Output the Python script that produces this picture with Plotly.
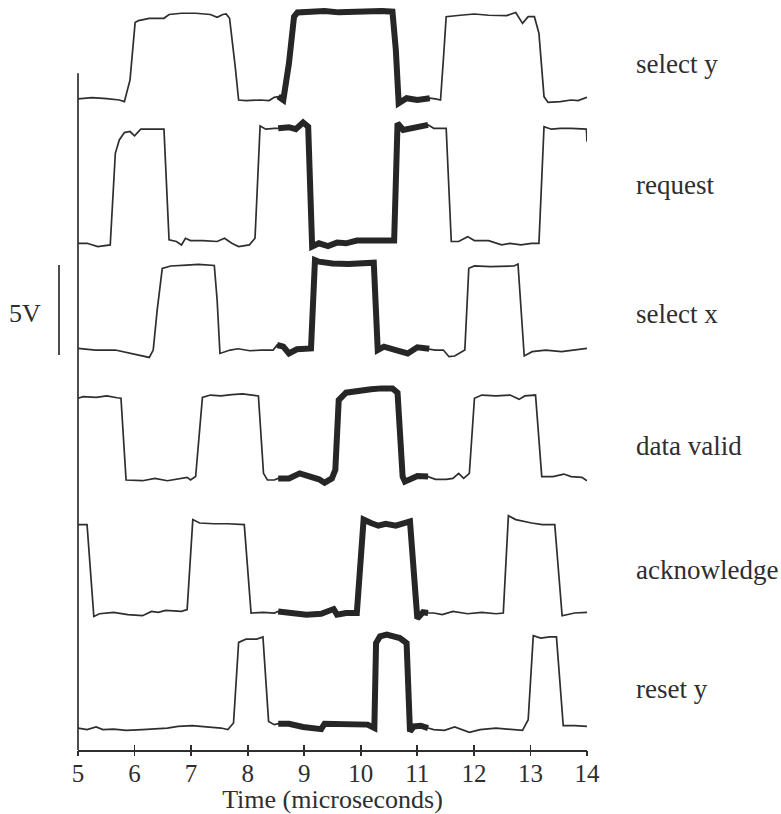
import plotly.graph_objects as go

# ---------------- data (time in microseconds, signal in volts) ----------------
CHANNELS = ["select y", "request", "select x", "data valid", "acknowledge", "reset y"]

T_SELECT_Y = [5.00, 5.25, 5.51, 5.73, 5.82, 5.92, 6.01, 6.07, 6.26, 6.52, 6.61, 6.83, 7.08, 7.34, 7.46,
              7.56, 7.62, 7.68, 7.78, 7.84, 7.97, 8.22, 8.38, 8.47, 8.54, 8.63, 8.73, 8.82, 8.88, 9.11,
              9.36, 9.61, 9.86, 10.12, 10.37, 10.56, 10.62, 10.67, 10.81, 11.00, 11.22, 11.32, 11.41,
              11.46, 11.51, 11.76, 12.01, 12.26, 12.58, 12.74, 12.86, 12.96, 13.07, 13.15, 13.24, 13.31,
              13.53, 13.72, 13.84, 14.00]
V_SELECT_Y = [0, 0.07, 0.02, -0.06, -0.15, 1.06, 4.24, 4.35, 4.48, 4.48, 4.69, 4.76, 4.76, 4.69, 4.54,
              4.69, 4.72, 4.48, 1.80, -0.06, -0.09, -0.06, -0.09, 0.09, 0.13, -0.06, 1.98, 4.57, 4.80, 4.85,
              4.89, 4.81, 4.85, 4.87, 4.89, 4.85, 2.72, -0.24, 0.04, -0.06, 0.04, 0, -0.06,
              2.17, 4.57, 4.65, 4.72, 4.65, 4.63, 4.80, 4.20, 4.57, 4.57, 3.65, 0.13, -0.19,
              -0.15, -0.06, -0.09, 0.09]

T_REQUEST = [5.00, 5.16, 5.35, 5.57, 5.66, 5.73, 5.82, 5.92, 6.00, 6.11, 6.30, 6.52, 6.61, 6.74, 6.83,
             6.90, 6.99, 7.21, 7.46, 7.59, 7.72, 7.84, 8.03, 8.13, 8.22, 8.32, 8.47, 8.54, 8.73, 8.85,
             8.98, 9.07, 9.14, 9.26, 9.42, 9.58, 9.74, 9.93, 10.12, 10.24, 10.59, 10.65, 10.75, 10.94,
             11.19, 11.29, 11.51, 11.60, 11.73, 11.89, 12.01, 12.26, 12.49, 12.64, 12.83, 13.02, 13.15,
             13.24, 13.37, 13.53, 13.72, 13.91, 13.99, 14.00]
V_REQUEST = [0.09, 0.09, -0.09, 0, 5.09, 5.83, 6.24, 6.30, 6.06, 6.43, 6.43, 6.43, 0.28, 0.19, 0,
             0.37, 0.24, 0.24, 0.19, 0.37, 0.09, -0.09, 0, 0.37, 6.61, 6.43, 6.48, 6.48, 6.54, 6.43,
             6.80, 6.57, -0.09, 0.09, -0.06, 0.13, 0.09, 0.24, 0.28, 0.24, 0.24, 6.76, 6.39, 6.48,
             6.67, 6.48, 6.48, 0.19, 0.19, 0.46, 0.24, 0.24, 0, 0.09, 0, 0.09, 0.09,
             6.57, 6.43, 6.48, 6.48, 6.43, 6.43, 5.74]

T_SELECT_X = [5.00, 5.31, 5.66, 5.94, 6.15, 6.26, 6.33, 6.40, 6.49, 6.64, 6.92, 7.13, 7.41, 7.46, 7.51,
              7.69, 7.83, 8.04, 8.24, 8.45, 8.52, 8.63, 8.73, 8.87, 9.12, 9.19, 9.26, 9.50, 9.78, 10.06,
              10.23, 10.30, 10.41, 10.62, 10.83, 11.00, 11.21, 11.32, 11.46, 11.56, 11.66, 11.84, 11.91,
              12.01, 12.29, 12.60, 12.71, 12.78, 12.89, 13.03, 13.27, 13.55, 13.83, 14.00]
V_SELECT_X = [0.09, 0, 0, -0.19, -0.33, -0.41, 0, 2.22, 4.54, 4.67, 4.72, 4.76, 4.70, 2.78, -0.19,
              0, 0.07, -0.04, 0, 0, 0.28, 0.19, -0.19, 0.04, 0.09, 5.00, 4.91, 4.81, 4.78, 4.81,
              4.85, 0, 0.19, 0, -0.19, 0.15, 0.07, 0, 0, -0.37, -0.33, 0, 4.54,
              4.67, 4.63, 4.67, 4.67, 4.78, -0.33, -0.09, 0, -0.09, 0, 0.09]

T_DATA_VALID = [5.00, 5.09, 5.32, 5.51, 5.69, 5.76, 5.85, 6.14, 6.36, 6.58, 6.93, 6.99, 7.08, 7.20, 7.34,
                7.53, 7.72, 7.91, 8.19, 8.28, 8.35, 8.47, 8.54, 8.73, 8.92, 9.11, 9.26, 9.36, 9.49, 9.55,
                9.61, 9.74, 9.93, 10.18, 10.37, 10.56, 10.65, 10.74, 10.78, 11.00, 11.19, 11.32, 11.51,
                11.63, 11.73, 11.82, 11.92, 12.01, 12.14, 12.39, 12.64, 12.80, 12.90, 13.09, 13.20, 13.40,
                13.59, 13.72, 13.91, 14.00]
V_DATA_VALID = [4.54, 4.63, 4.59, 4.67, 4.57, 4.54, 0, -0.04, 0.09, -0.04, 0.15, 0, 0.19, 4.59, 4.72,
                4.67, 4.74, 4.78, 4.67, 0.37, 0, 0, 0.09, 0.09, 0.37, 0.22, 0.04, -0.15, 0.09, 0.56,
                4.44, 4.85, 4.96, 5.04, 5.09, 5.09, 4.85, 0.19, -0.09, 0.22, 0.19, 0.04, 0.04,
                0.09, 0.37, 0.09, 0.37, 4.54, 4.72, 4.67, 4.72, 4.48, 4.67, 4.72, 0.19, 0.19,
                0.33, 0.19, 0.15, -0.04]

T_ACKNOWLEDGE = [5.00, 5.16, 5.28, 5.38, 5.63, 5.88, 6.14, 6.30, 6.42, 6.55, 6.83, 6.93, 7.03, 7.15, 7.40,
                 7.65, 7.94, 8.06, 8.28, 8.47, 8.54, 8.79, 9.04, 9.30, 9.52, 9.58, 9.74, 9.93, 10.05,
                 10.18, 10.31, 10.44, 10.62, 10.87, 10.97, 11.00, 11.10, 11.19, 11.29, 11.44, 11.63,
                 11.89, 12.14, 12.39, 12.52, 12.61, 12.74, 13.02, 13.21, 13.43, 13.56, 13.78, 14.00]
V_ACKNOWLEDGE = [4.91, 4.91, -0.19, -0.04, 0.04, -0.09, -0.15, 0.09, 0.04, 0.15, 0.09, 0.19, 5.19, 5.00, 4.96,
                 4.96, 4.91, 0, 0.04, 0, 0.09, 0, -0.09, -0.04, 0.22, -0.09, 0, 0, 5.19,
                 5.00, 4.85, 4.96, 4.85, 5.09, 0, -0.30, 0.04, 0, 0, -0.09, 0.09,
                 -0.04, 0.04, -0.04, 0, 5.41, 5.19, 5.00, 4.91, 4.91, -0.15, 0, 0.04]

T_RESET_Y = [5.00, 5.16, 5.32, 5.44, 5.63, 5.85, 6.14, 6.33, 6.58, 6.77, 7.02, 7.27, 7.53, 7.65, 7.75,
             7.84, 7.97, 8.16, 8.27, 8.37, 8.47, 8.54, 8.73, 8.98, 9.17, 9.30, 9.36, 9.61, 9.86, 10.12,
             10.24, 10.27, 10.34, 10.46, 10.69, 10.81, 10.87, 10.94, 11.06, 11.19, 11.29, 11.48, 11.66,
             11.92, 12.11, 12.39, 12.64, 12.86, 12.96, 13.05, 13.18, 13.34, 13.46, 13.58, 13.78, 14.00]
V_RESET_Y = [0, -0.09, 0.06, -0.09, -0.06, -0.13, -0.09, -0.06, 0, 0.09, 0.13, 0.06, 0, -0.09, 0.28,
             4.76, 4.94, 4.94, 5.06, 0.37, 0.19, 0.24, 0.24, 0.06, -0.06, -0.06, 0.24, 0.24, 0.19, 0.19,
             0, 4.72, 5.09, 5.19, 5.00, 4.72, -0.19, 0.09, 0.13, 0, -0.09, -0.13, 0.06,
             -0.24, -0.09, 0, -0.06, -0.13, 0.46, 5.13, 5.00, 5.06, 5.06, 0.13, 0.13, 0.09]

TIMES = [T_SELECT_Y, T_REQUEST, T_SELECT_X, T_DATA_VALID, T_ACKNOWLEDGE, T_RESET_Y]
VOLTS = [V_SELECT_Y, V_REQUEST, V_SELECT_X, V_DATA_VALID, V_ACKNOWLEDGE, V_RESET_Y]

X_TICKS = [5, 6, 7, 8, 9, 10, 11, 12, 13, 14]
X_TITLE = "Time (microseconds)"
SCALE_LABEL = "5V"
SCALE_VOLTS = 5

# ---------------- layout / style (not data) ----------------
W, H = 781, 814
M_L, M_R, M_T, M_B = 78, 194, 0, 64
PX_PER_VOLT = 18.0
Y_TOP = (H - M_T - M_B) / PX_PER_VOLT
OFFSETS = [36.17, 28.06, 22.22, 15.0, 7.61, 1.22]      # vertical stacking of channels (volts)
LABEL_Y = [38.1, 31.4, 24.2, 16.9, 10.0, 3.4]          # right-hand label positions
BOLD_START, BOLD_END = 8.5, 11.25
AXIS_TOP = 37.6
BAR_BASE = 21.95
FONT = "Liberation Serif"
INK = "#2e2e2e"
plot_w = W - M_L - M_R

fig = go.Figure()
for t, v, off in zip(TIMES, VOLTS, OFFSETS):
    ys = [val + off for val in v]
    fig.add_trace(go.Scatter(x=t, y=ys, mode="lines",
                             line=dict(color=INK, width=1.7), hoverinfo="skip", showlegend=False))
    bt = [a for a in t if BOLD_START <= a <= BOLD_END]
    by = [b for a, b in zip(t, ys) if BOLD_START <= a <= BOLD_END]
    fig.add_trace(go.Scatter(x=bt, y=by, mode="lines",
                             line=dict(color="#262626", width=6), hoverinfo="skip", showlegend=False))

# invisible helper traces for the overlaid tick axes (ticks crossing the axis line)
for ax in ("x2", "x3"):
    fig.add_trace(go.Scatter(x=[X_TICKS[0], X_TICKS[-1]], y=[None, None], xaxis=ax, yaxis="y",
                             mode="lines", showlegend=False, hoverinfo="skip"))

annotations = []
for name, ly in zip(CHANNELS, LABEL_Y):
    annotations.append(dict(text=name, xref="paper", yref="y", x=(634 - M_L) / plot_w, y=ly,
                            xanchor="left", yanchor="middle", showarrow=False,
                            font=dict(family=FONT, size=27, color=INK)))
annotations.append(dict(text=SCALE_LABEL, xref="paper", yref="y", x=(43 - M_L) / plot_w,
                        y=BAR_BASE + SCALE_VOLTS / 2 - 0.2, xanchor="right", yanchor="middle",
                        showarrow=False, font=dict(family=FONT, size=26, color=INK)))

shapes = [
    dict(type="line", xref="paper", yref="y", x0=0, x1=0, y0=0, y1=AXIS_TOP,
         line=dict(color=INK, width=1.7)),
    dict(type="line", xref="paper", yref="y", x0=(59 - M_L) / plot_w, x1=(59 - M_L) / plot_w,
         y0=BAR_BASE, y1=BAR_BASE + SCALE_VOLTS, line=dict(color=INK, width=1.7)),
]

tick_axis = dict(range=[X_TICKS[0], X_TICKS[-1]], overlaying="x", anchor="y", side="bottom",
                 tickvals=X_TICKS, showticklabels=False, ticklen=5, tickwidth=1.7,
                 tickcolor=INK, showline=False, showgrid=False, zeroline=False)

fig.update_layout(
    width=W, height=H, margin=dict(l=M_L, r=M_R, t=M_T, b=M_B),
    paper_bgcolor="white", plot_bgcolor="white",
    annotations=annotations, shapes=shapes,
    xaxis=dict(range=[X_TICKS[0], X_TICKS[-1]], tickvals=X_TICKS, ticktext=[str(x) for x in X_TICKS],
               showline=True, linecolor=INK, linewidth=1.7, ticks="", showgrid=False, zeroline=False,
               tickfont=dict(family=FONT, size=25, color=INK),
               title=dict(text=X_TITLE, font=dict(family=FONT, size=26, color=INK), standoff=4)),
    xaxis2=dict(tick_axis, ticks="outside"),
    xaxis3=dict(tick_axis, ticks="inside"),
    yaxis=dict(range=[0, Y_TOP], visible=False, fixedrange=True),
)

fig.write_html("out.html", config={"displayModeBar": False, "staticPlot": True})

# remove the browser's default page margin so the figure sits at the window origin
with open("out.html", "r", encoding="utf-8") as f:
    html = f.read()
html = html.replace("<body>", '<body style="margin:0;padding:0;overflow:hidden;">', 1)
with open("out.html", "w", encoding="utf-8") as f:
    f.write(html)
